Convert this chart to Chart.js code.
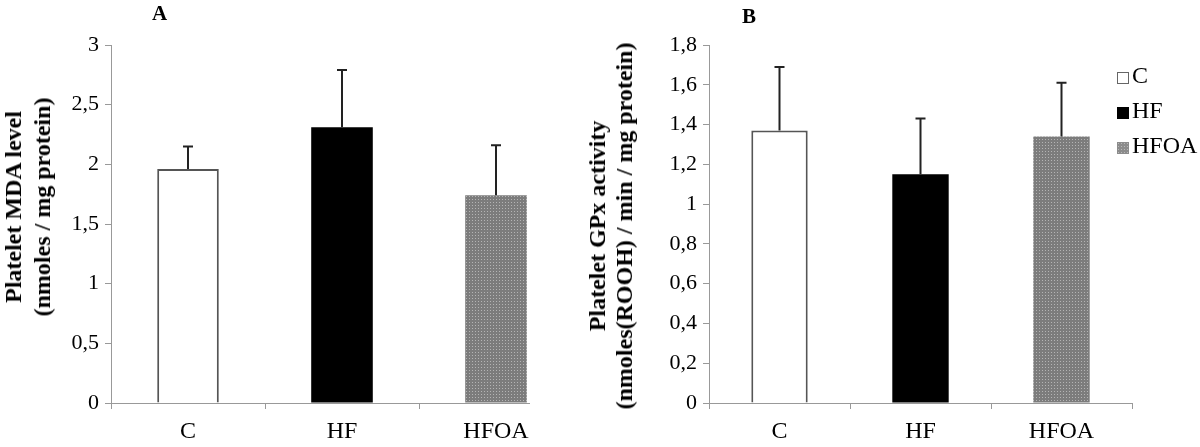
<!DOCTYPE html>
<html>
<head>
<meta charset="utf-8">
<script src="https://cdn.jsdelivr.net/npm/chart.js@4/dist/chart.umd.min.js"></script>
<style>
    body { margin: 0; background: #fff; font-family: "Liberation Serif", serif; }
    #wrap { position: relative; width: 1200px; height: 447px; overflow: hidden; }
    .panel { position: absolute; top: 0; height: 447px; overflow: hidden; }
    .inner { position: absolute; left: 0; top: 0; width: 600px; height: 447px; }
    .ytitle {
        position: absolute; white-space: nowrap; text-align: center;
        font-weight: bold; font-size: 24px; line-height: 27px;
        transform: translate(-50%, -50%) rotate(-90deg);
    }
    .tag { position: absolute; font-weight: bold; font-size: 21px; }
    #legend { position: absolute; left: 1117px; top: 62px; font-size: 24px; }
    #legend div { height: 35px; line-height: 26px; white-space: nowrap; }
    #legend span.box {
        display: inline-block; width: 12px; height: 12px; margin-right: 3px;
        vertical-align: -1px; box-sizing: border-box;
    }
</style>
</head>
<body>
<div id="wrap">
    <div class="panel" style="left:0;width:530px">
        <div class="inner"><canvas id="chartA"></canvas></div>
    </div>
    <div class="panel" style="left:600px;width:600px">
        <div class="inner"><canvas id="chartB"></canvas></div>
    </div>
    <div class="ytitle" style="left:28px;top:207px;line-height:29px">Platelet MDA level<br>(nmoles / mg protein)</div>
    <div class="ytitle" style="left:611px;top:226px">Platelet GPx activity<br>(nmoles(ROOH) / min / mg protein)</div>
    <div class="tag" style="left:152px;top:1px">A</div>
    <div class="tag" style="left:742px;top:4px">B</div>
    <div id="legend"></div>
</div>
<script>
const groups = ['C', 'HF', 'HFOA'];

// panel A: platelet MDA level
const mdaMean = [1.96, 2.31, 1.74];
const mdaSd = [0.19, 0.48, 0.42];
const mdaTicks = { min: 0, max: 3, step: 0.5 };

// panel B: platelet GPx activity
const gpxMean = [1.37, 1.15, 1.34];
const gpxSd = [0.32, 0.28, 0.27];
const gpxTicks = { min: 0, max: 1.8, step: 0.2 };

// dotted grey fill for HFOA
function dotPattern() {
    const c = document.createElement('canvas');
    c.width = 3; c.height = 3;
    const g = c.getContext('2d');
    g.fillStyle = '#7c7c7c';
    g.fillRect(0, 0, 3, 3);
    g.fillStyle = '#b4b4b4';
    g.fillRect(1, 1, 1, 1);
    return g.createPattern(c, 'repeat');
}
const hfoaFill = dotPattern();

const errorBars = {
    id: 'errorBars',
    afterDatasetsDraw(chart) {
        const ctx = chart.ctx;
        const y = chart.scales.y;
        const sd = chart.options.plugins.errorBars.sd;
        const meta = chart.getDatasetMeta(0);
        const data = chart.data.datasets[0].data;
        ctx.save();
        ctx.strokeStyle = '#222';
        ctx.lineWidth = 2;
        meta.data.forEach((bar, i) => {
            const top = y.getPixelForValue(data[i] + sd[i]);
            ctx.beginPath();
            ctx.moveTo(bar.x, bar.y);
            ctx.lineTo(bar.x, top);
            ctx.moveTo(bar.x - 5, top);
            ctx.lineTo(bar.x + 5, top);
            ctx.stroke();
        });
        ctx.restore();
    }
};

function comma(v) {
    return Number(v.toFixed(1)).toString().replace('.', ',');
}

function makeChart(id, means, sd, ticks, axisWidth, padRight, tickSize) {
    return new Chart(document.getElementById(id), {
        type: 'bar',
        data: {
            labels: groups,
            datasets: [{
                data: means,
                backgroundColor: ['#ffffff', '#000000', hfoaFill],
                borderColor: ['#555555', '#000000', 'rgba(0,0,0,0)'],
                borderWidth: [2, 0, 0],
                barPercentage: 0.4,
                categoryPercentage: 1
            }]
        },
        options: {
            responsive: true,
            maintainAspectRatio: false,
            animation: false,
            layout: { padding: { top: 45, right: padRight, left: 0, bottom: 0 } },
            plugins: {
                legend: { display: false },
                tooltip: { enabled: false },
                errorBars: { sd: sd }
            },
            scales: {
                x: {
                    grid: { display: true, offset: true, drawOnChartArea: false, tickLength: 6, color: '#999' },
                    border: { color: '#999' },
                    ticks: { color: '#000', padding: 8, font: { family: 'Liberation Serif', size: 24 } },
                    afterFit: s => { s.height = 44; }
                },
                y: {
                    min: ticks.min,
                    max: ticks.max,
                    grid: { drawOnChartArea: false, tickLength: 6, color: '#999' },
                    border: { color: '#999' },
                    ticks: {
                        stepSize: ticks.step,
                        color: '#000',
                        padding: 6,
                        font: { family: 'Liberation Serif', size: tickSize },
                        callback: v => comma(v)
                    },
                    afterFit: s => { s.width = axisWidth; }
                }
            }
        },
        plugins: [errorBars]
    });
}

makeChart('chartA', mdaMean, mdaSd, mdaTicks, 111, 27, 22);
makeChart('chartB', gpxMean, gpxSd, gpxTicks, 109, 68, 22);

// legend
const legendStyles = [
    'background:#fff;border:1.5px solid #666',
    'background:#000',
    'background:#8c8c8c;background-image:radial-gradient(#b8b8b8 0.8px, transparent 1px);background-size:3px 3px'
];
const legend = document.getElementById('legend');
groups.forEach((g, i) => {
    const row = document.createElement('div');
    row.innerHTML = `<span class="box" style="${legendStyles[i]}"></span>${g}`;
    legend.appendChild(row);
});
</script>
</body>
</html>
